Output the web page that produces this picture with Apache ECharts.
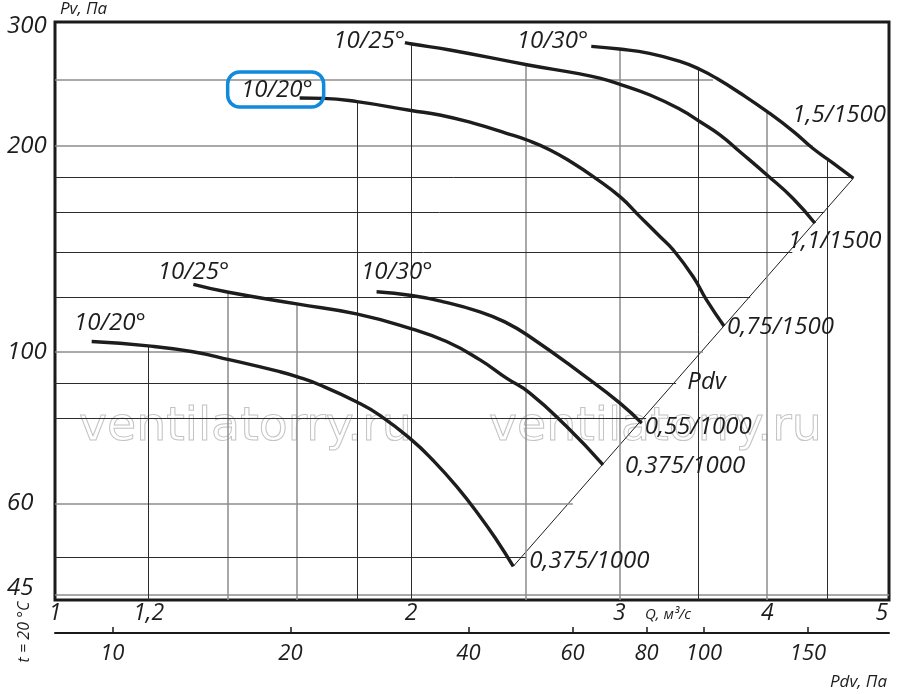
<!DOCTYPE html>
<html>
<head>
<meta charset="utf-8">
<script src="https://cdn.jsdelivr.net/npm/echarts@6/dist/echarts.min.js"></script>
<style>html,body{margin:0;padding:0;background:#fff}#c{width:900px;height:694px}</style>
</head>
<body>
<div id="c"></div>
<script>
// ---- tick values ----
const qTicks = [1, 1.2, 2, 3, 4, 5];
const pvTicks = [45, 60, 100, 200, 300];
const pdvTicks = [10, 20, 40, 60, 80, 100, 150];

// ---- curves (Q m3/s, Pv Pa) ----
const qA = [1.61, 1.685, 1.80, 2.00, 2.115, 2.257, 2.408, 2.506, 2.621, 2.742, 2.851, 3.003, 3.122, 3.246, 3.331, 3.463, 3.554, 3.677];
const pvA = [235.3, 235.0, 232.4, 225.6, 222.2, 216.1, 208.9, 204.2, 197.5, 188.8, 180.5, 168.7, 157.7, 147.5, 141.0, 128.8, 119.1, 109.1];
const qB = [1.976, 2.003, 2.157, 2.512, 2.778, 2.887, 3.003, 3.184, 3.375, 3.510, 3.648, 3.793, 3.998, 4.204, 4.389];
const pvB = [283.6, 282.3, 276.6, 263.0, 255.2, 251.5, 246.4, 237.7, 226.5, 217.2, 207.8, 196.3, 181.5, 167.8, 154.2];
const qC = [2.84, 3.00, 3.18, 3.38, 3.51, 3.63, 3.79, 4.00, 4.21, 4.37, 4.55, 4.73];
const pvC = [280, 277.5, 273.5, 266, 259, 251, 239.5, 224.7, 210.1, 198.6, 188.8, 179.5];
const qD = [1.074, 1.199, 1.308, 1.403, 1.549, 1.601, 1.675, 1.798, 1.882, 2.002, 2.088, 2.185, 2.287, 2.362, 2.44];
const pvD = [103.5, 102.0, 100.0, 97.4, 93.5, 91.96, 89.4, 84.5, 80.7, 74.3, 69.3, 63.5, 57.4, 53.0, 48.5];
const qE = [1.309, 1.402, 1.601, 1.798, 2.002, 2.143, 2.287, 2.408, 2.520, 2.707, 2.906];
const pvE = [125.5, 122.2, 117.5, 113.6, 108.0, 103.5, 97.3, 91.5, 87.0, 77.7, 68.3];
const qF = [1.870, 2.002, 2.115, 2.287, 2.400, 2.520, 2.795, 3.003, 3.133];
const pvF = [122.4, 120.9, 118.7, 114.4, 110.6, 105.2, 92.5, 84.1, 78.6];
// Pdv line
const qPdv = [2.44, 4.73];
const pvPdv = [48.5, 179.5];

// curve names
const startNames = ['10/20°', '10/25°', '10/30°', '10/20°', '10/25°', '10/30°'];
const endNames = ['0,75/1500', '1,1/1500', '1,5/1500', '0,375/1000', '0,375/1000', '0,55/1000'];

// ---- grid lines (value, extent) ----
const hLightVals = [250, 200, 100, 60, 44];
const hLightEnds = [3.6, 4.37, 3.53, 2.74, 5.07];
const hDarkVals = [180, 160, 140, 120, 90, 80, 50];
const hDarkEnds = [4.72, 4.47, 4.20, 3.87, 3.35, 3.16, 2.50];
const vLightVals = [1.4, 1.6, 2.5, 3, 4];
const vLightTops = [122.2, 117.5, 263, 277.5, 224.7];
const vDarkVals = [1.2, 1.8, 2, 3.5, 4.5];
const vDarkTops = [102, 232.4, 282.3, 259, 191];

const Q_MIN = 1, Q_MAX = 5.07, PV_MIN = 43.3, PV_MAX = 304, PDV_MIN = 8, PDV_MAX = 205.6;

const FONT = '"Open Sans", "Noto Sans", sans-serif';
const INK = '#1d1d1d';
const lbl = {color: INK, fontSize: 24, fontStyle: 'italic', fontFamily: FONT};

function pts(q, pv) { return q.map((x, i) => [x, pv[i]]); }

const startOffs = [[13, -8], [0, -1], [-3, -5], [54, -18], [36, -12], [56, -20]];
const endOffs = [[3, 1], [-27, 18], [-61, -63], [16, -5], [22, 1], [3, 4]];

function curveSeries(idx, q, pv) {
  const n = q.length;
  return {
    type: 'line', data: pts(q, pv), smooth: 0.5, symbol: 'none', z: 5,
    lineStyle: {color: INK, width: 3.4}, silent: true, animation: false,
    markPoint: {
      symbol: 'circle', symbolSize: 0, silent: true, animation: false,
      data: [
        {coord: [q[0], pv[0]], label: Object.assign({show: true, position: 'left', distance: 0, offset: startOffs[idx], formatter: startNames[idx]}, lbl)},
        {coord: [q[n - 1], pv[n - 1]], label: Object.assign({show: true, position: 'right', distance: 0, offset: endOffs[idx], formatter: endNames[idx]}, lbl)}
      ]
    }
  };
}

function gridSeries(hv, he, vv, vt, color, width) {
  const lines = [];
  hv.forEach((v, i) => lines.push([{coord: [Q_MIN, v]}, {coord: [he[i], v]}]));
  vv.forEach((v, i) => lines.push([{coord: [v, PV_MIN]}, {coord: [v, vt[i]]}]));
  return {
    type: 'line', data: [], symbol: 'none', z: 1, silent: true, animation: false,
    markLine: {
      symbol: ['none', 'none'], silent: true, animation: false, label: {show: false},
      lineStyle: {color: color, width: width, type: 'solid'},
      data: lines
    }
  };
}

const tickFmt = v => String(v).replace('.', ',');

const chart = echarts.init(document.getElementById('c'));
chart.setOption({
  backgroundColor: '#fff',
  animation: false,
  grid: {left: 55, right: 11, top: 22, bottom: 94, show: true, borderColor: '#1a1a1a', borderWidth: 3, backgroundColor: 'transparent'},
  xAxis: [
    {
      type: 'log', logBase: 10, min: Q_MIN, max: Q_MAX, position: 'bottom',
      axisLine: {show: false}, axisTick: {show: false}, splitLine: {show: false},
      axisLabel: {customValues: qTicks, formatter: tickFmt, margin: 2, fontSize: 23, fontStyle: 'italic', fontFamily: FONT, color: INK, showMinLabel: true, showMaxLabel: true}
    },
    {
      type: 'log', logBase: 10, min: PDV_MIN, max: PDV_MAX, position: 'bottom', offset: 33,
      axisLine: {show: true, lineStyle: {color: '#1a1a1a', width: 2}},
      axisTick: {show: true, inside: true, length: 6, customValues: pdvTicks, lineStyle: {color: '#1a1a1a', width: 1.5}},
      splitLine: {show: false},
      axisLabel: {customValues: pdvTicks, margin: 10, fontSize: 22, fontStyle: 'italic', fontFamily: FONT, color: INK}
    }
  ],
  yAxis: {
    type: 'log', logBase: 10, min: PV_MIN, max: PV_MAX,
    axisLine: {show: false}, axisTick: {show: false}, splitLine: {show: false},
    axisLabel: {customValues: pvTicks, align: 'left', margin: 48, fontSize: 24, fontStyle: 'italic', fontFamily: FONT, color: INK}
  },
  series: [
    gridSeries(hLightVals, hLightEnds, vLightVals, vLightTops, '#8c8c8c', 1.5),
    gridSeries(hDarkVals, hDarkEnds, vDarkVals, vDarkTops, '#2b2b2b', 1),
    {
      type: 'line', data: pts(qPdv, pvPdv), symbol: 'none', z: 4, silent: true, animation: false,
      lineStyle: {color: INK, width: 1},
      markPoint: {
        symbol: 'circle', symbolSize: 0, silent: true, animation: false,
        data: [{coord: [Math.sqrt(qPdv[0] * qPdv[1]), Math.sqrt(pvPdv[0] * pvPdv[1])],
          label: Object.assign({show: true, position: 'right', distance: 0, offset: [4, 10], formatter: 'Pdv'}, lbl)}]
      }
    },
    curveSeries(0, qA, pvA),
    curveSeries(1, qB, pvB),
    curveSeries(2, qC, pvC),
    curveSeries(3, qD, pvD),
    curveSeries(4, qE, pvE),
    curveSeries(5, qF, pvF)
  ]
});

const p0 = chart.convertToPixel({xAxisIndex: 0, yAxisIndex: 0}, [qA[0], pvA[0]]);
function txt(id, x, y, text, font, align, valign, extra) {
  return Object.assign({id: id, type: 'text', x: x, y: y, z: 10, silent: true,
    style: {text: text, font: font, fill: INK, textAlign: align, align: align, textVerticalAlign: valign, verticalAlign: valign}}, extra || {});
}
const wmStyle = (t) => ({text: t, font: '46px "DejaVu Sans", sans-serif', fill: 'rgba(255,255,255,0)', stroke: '#c4c4c4', lineWidth: 1, textAlign: 'left', align: 'left', textVerticalAlign: 'middle', verticalAlign: 'middle'});
chart.setOption({
  graphic: [
    {id: 'wm1', type: 'text', x: 79, y: 428, scaleX: 1.03, z: 3, silent: true, style: wmStyle('ventilatorry.ru')},
    {id: 'wm2', type: 'text', x: 489, y: 428, scaleX: 1.03, z: 3, silent: true, style: wmStyle('ventilatorry.ru')},
    txt('pvName', 60, 9, 'Pv, Па', 'italic 17px ' + FONT, 'left', 'middle'),
    txt('qName', 645, 615, 'Q, м³/с', 'italic 15px ' + FONT, 'left', 'middle'),
    txt('pdvName', 887, 682, 'Pdv, Па', 'italic 17px ' + FONT, 'right', 'middle'),
    txt('tName', 24, 632, 't = 20 °C', 'italic 16px ' + FONT, 'center', 'middle', {rotation: Math.PI / 2}),
    {id: 'box', type: 'rect', z: 10, silent: true,
      shape: {x: p0[0] - 72, y: p0[1] - 26, width: 96, height: 35, r: 12},
      style: {fill: 'none', stroke: '#1189dc', lineWidth: 3.5}}
  ]
});
</script>
</body>
</html>
